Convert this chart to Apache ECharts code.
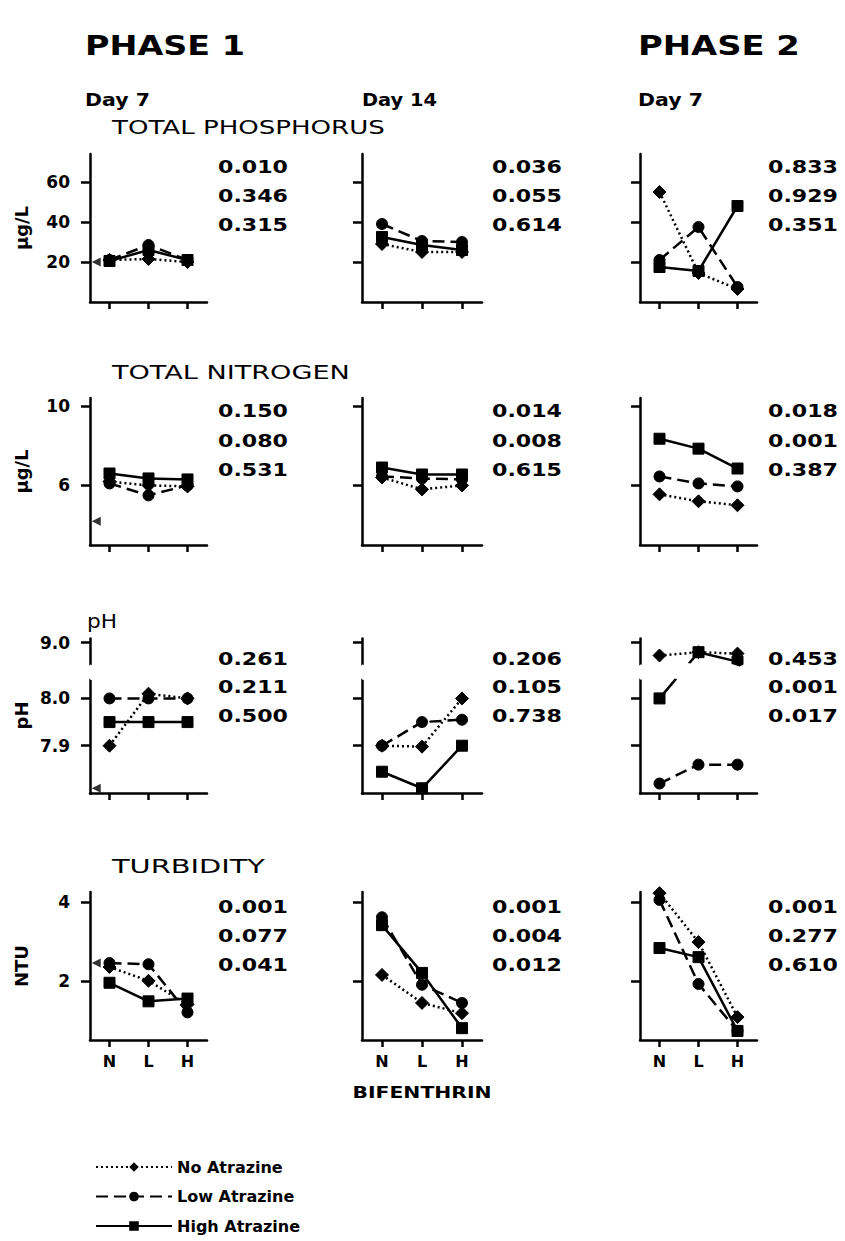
<!DOCTYPE html>
<html><head><meta charset="utf-8">
<script src="https://cdn.jsdelivr.net/npm/echarts@6/dist/echarts.min.js"></script>
<style>html,body{margin:0;padding:0;background:#fff}#chart{width:845px;height:1241px}</style>
</head><body><div id="chart"></div>
<script>
const categories = ['N', 'L', 'H'];
const treatments = ['No Atrazine', 'Low Atrazine', 'High Atrazine'];
const phaseTitles = ['PHASE 1', 'PHASE 2'];
const columnTitles = ['Day 7', 'Day 14', 'Day 7'];
const variableTitles = ['TOTAL PHOSPHORUS', 'TOTAL NITROGEN', 'pH', 'TURBIDITY'];
const yAxisNames = ['µg/L', 'µg/L', 'pH', 'NTU'];
const xAxisTitle = 'BIFENTHRIN';

// values per column (P1 Day 7, P1 Day 14, P2 Day 7), each [N, L, H]
const phosphorusNo   = [[21, 21.5, 20], [29, 25, 25], [55, 14.5, 6.5]];
const phosphorusLow  = [[21, 28.5, 21], [39, 30.5, 30], [21, 37.5, 7.5]];
const phosphorusHigh = [[20.5, 26, 21], [32.5, 28.5, 26], [17.5, 15.5, 48]];

const nitrogenNo   = [[6.2, 6.0, 5.95], [6.4, 5.8, 6.0], [5.55, 5.2, 5.0]];
const nitrogenLow  = [[6.1, 5.5, 6.0], [6.45, 6.35, 6.3], [6.45, 6.1, 5.95]];
const nitrogenHigh = [[6.6, 6.35, 6.3], [6.9, 6.55, 6.55], [8.35, 7.85, 6.85]];

const phNo   = [[7.9, 8.01, 8.0], [7.9, 7.898, 8.0], [8.973, 8.98, 8.977]];
const phLow  = [[8.0, 8.0, 8.0], [7.9, 7.95, 7.955], [7.82, 7.86, 7.86]];
const phHigh = [[7.95, 7.95, 7.95], [7.845, 7.81, 7.9], [8.0, 8.98, 8.96]];

const turbidityNo   = [[2.35, 2.0, 1.4], [2.15, 1.44, 1.18], [4.22, 2.98, 1.08]];
const turbidityLow  = [[2.45, 2.42, 1.2], [3.61, 1.9, 1.44], [4.05, 1.92, 0.73]];
const turbidityHigh = [[1.95, 1.48, 1.55], [3.41, 2.2, 0.8], [2.83, 2.6, 0.73]];

// left-pointing arrow on the Phase 1 Day 7 axes (per variable)
const pretreatment = [20, 4.2, 7.81, 2.45];

const yTicks = [[20, 40, 60], [6, 10], [7.9, 8.0, 9.0], [2, 4]];
const yRanges = [[0, 74], [3, 10.4], [7.8, 9.01], [0.5, 4.25]];
const phBreak = [8.04, 8.955];

const pPhosphorus = [['0.010', '0.346', '0.315'], ['0.036', '0.055', '0.614'], ['0.833', '0.929', '0.351']];
const pNitrogen   = [['0.150', '0.080', '0.531'], ['0.014', '0.008', '0.615'], ['0.018', '0.001', '0.387']];
const pPH         = [['0.261', '0.211', '0.500'], ['0.206', '0.105', '0.738'], ['0.453', '0.001', '0.017']];
const pTurbidity  = [['0.001', '0.077', '0.041'], ['0.001', '0.004', '0.012'], ['0.001', '0.277', '0.610']];

// ---------- layout ----------
const values = [
  [phosphorusNo, phosphorusLow, phosphorusHigh],
  [nitrogenNo, nitrogenLow, nitrogenHigh],
  [phNo, phLow, phHigh],
  [turbidityNo, turbidityLow, turbidityHigh]
];
const pValues = [pPhosphorus, pNitrogen, pPH, pTurbidity];
const colLeft = [90, 362, 640];
const colWidth = [117, 120, 117];
const rowTop = [154, 398, 638, 892];
const rowHeight = [148, 147, 155, 148];
const pX = [218, 492, 768];
const pY = [[167, 196, 225], [411, 441, 470], [659, 687, 716], [907, 936, 965]];
const FONT = 'DejaVu Sans';
const styles = [
  { symbol: 'diamond', symbolSize: 13, type: [2, 3] },
  { symbol: 'circle', symbolSize: 11, type: [12, 6] },
  { symbol: 'rect', symbolSize: 11, type: 'solid' }
];

const grids = [], xAxes = [], yAxes = [], series = [];
for (let r = 0; r < 4; r++) {
  for (let c = 0; c < 3; c++) {
    const gi = r * 3 + c;
    grids.push({ left: colLeft[c], top: rowTop[r], width: colWidth[c], height: rowHeight[r] });
    xAxes.push({
      type: 'value', gridIndex: gi, min: 0.5, max: 3.5,
      axisLine: { show: true, lineStyle: { color: '#000', width: 2.5 } },
      axisTick: { show: true, customValues: [1, 2, 3], length: 7, lineStyle: { color: '#000', width: 2.5 } },
      axisLabel: {
        show: r === 3, customValues: [1, 2, 3], margin: 13,
        formatter: v => categories[Math.round(v) - 1] || '',
        color: '#000', fontFamily: FONT, fontWeight: 'bold', fontSize: 16
      },
      splitLine: { show: false }
    });
    const ya = {
      type: 'value', gridIndex: gi, min: yRanges[r][0], max: yRanges[r][1],
      axisLine: { show: true, lineStyle: { color: '#000', width: 2.5 } },
      axisTick: { show: true, customValues: yTicks[r], length: 9, lineStyle: { color: '#000', width: 2.5 } },
      axisLabel: {
        show: c === 0, customValues: yTicks[r], margin: 20,
        formatter: v => (r === 2 ? v.toFixed(1) : String(v)),
        color: '#000', fontFamily: FONT, fontWeight: 'bold', fontSize: 17
      },
      splitLine: { show: false }
    };
    if (c === 0) {
      Object.assign(ya, { name: yAxisNames[r], nameLocation: 'middle', nameRotate: 90, nameGap: 60,
        nameTextStyle: { color: '#000', fontFamily: FONT, fontWeight: 'bold', fontSize: 18 } });
    }
    if (r === 2) {
      ya.breaks = [{ start: phBreak[0], end: phBreak[1], gap: '10%' }];
      ya.breakArea = { show: true, expandOnClick: false, zigzagAmplitude: 2,
        itemStyle: { color: '#fff', borderColor: '#fff', borderWidth: 0, opacity: 1 } };
    }
    yAxes.push(ya);
    for (let t = 0; t < 3; t++) {
      series.push({
        type: 'line', name: treatments[t], xAxisIndex: gi, yAxisIndex: gi,
        data: categories.map((k, i) => [i + 1, values[r][t][c][i]]),
        symbol: styles[t].symbol, symbolSize: styles[t].symbolSize, showSymbol: true,
        lineStyle: { color: '#000', width: 2.5, type: styles[t].type },
        itemStyle: { color: '#000', borderColor: '#000' },
        clip: false, silent: true, animation: false, z: 3 - t
      });
    }
    if (c === 0) {
      series.push({
        type: 'scatter', name: 'pretreatment', xAxisIndex: gi, yAxisIndex: gi,
        data: [[0.66, pretreatment[r]]], symbol: 'triangle', symbolRotate: 90, symbolSize: 9,
        itemStyle: { color: '#000' }, clip: false, silent: true, animation: false
      });
    }
  }
}

// ---------- text ----------
const ctx = document.createElement('canvas').getContext('2d');
function fitText(str, left, cy, size, weight, targetWidth, align) {
  const font = `${weight} ${size}px "${FONT}"`;
  ctx.font = font;
  const w = ctx.measureText(str).width;
  const a = align || 'left';
  return {
    type: 'text', x: left, y: cy, scaleX: targetWidth / w, silent: true,
    style: { text: str, font, fill: '#000', textAlign: a, textVerticalAlign: 'middle', align: a, verticalAlign: 'middle' }
  };
}
const graphics = [];
graphics.push(fitText(phaseTitles[0], 85, 46, 27, 'bold', 160));
graphics.push(fitText(phaseTitles[1], 638, 46, 27, 'bold', 162));
const dayLeft = [85, 362, 638], dayWidth = [65, 75, 65];
columnTitles.forEach((t, c) => graphics.push(fitText(t, dayLeft[c], 100, 18, 'bold', dayWidth[c])));
const varLeft = [112, 112, 87, 112], varY = [127, 372, 621, 866], varWidth = [273, 238, 30, 153];
variableTitles.forEach((t, r) => graphics.push(fitText(t, varLeft[r], varY[r], 20, 'normal', varWidth[r])));
for (let r = 0; r < 4; r++) for (let c = 0; c < 3; c++) for (let k = 0; k < 3; k++) {
  graphics.push(fitText(pValues[r][c][k], pX[c], pY[r][k], 17, 'bold', 70));
}
graphics.push(fitText(xAxisTitle, 422, 1093, 15, 'bold', 139, 'center'));

const chart = echarts.init(document.getElementById('chart'), null, { renderer: 'svg' });
chart.setOption({
  animation: false,
  backgroundColor: '#fff',
  grid: grids, xAxis: xAxes, yAxis: yAxes, series,
  legend: {
    data: treatments, left: 95, top: 1159, orient: 'vertical', selectedMode: false,
    padding: 0, itemWidth: 76, itemHeight: 12, itemGap: 13.5,
    textStyle: { color: '#000', fontFamily: FONT, fontWeight: 'bold', fontSize: 16 }
  },
  graphic: graphics
});
</script></body></html>
